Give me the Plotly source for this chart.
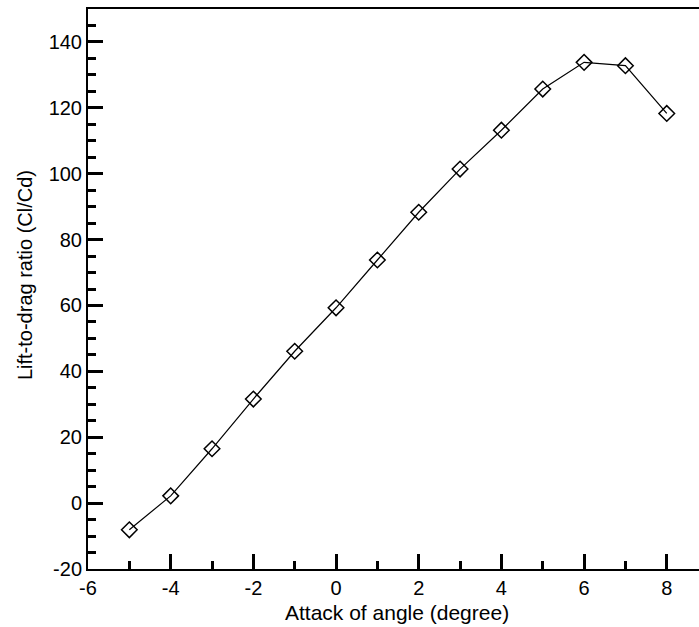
import plotly.graph_objects as go

# Angle of attack (degrees) and the corresponding lift-to-drag ratio
angle_of_attack = [-5, -4, -3, -2, -1, 0, 1, 2, 3, 4, 5, 6, 7, 8]
lift_to_drag = [-8.1, 2.2, 16.5, 31.6, 46.1, 59.3, 73.8, 88.3, 101.4,
                113.2, 125.7, 133.8, 132.8, 118.3]

x_ticks = [-6, -4, -2, 0, 2, 4, 6, 8]
y_ticks = [-20, 0, 20, 40, 60, 80, 100, 120, 140]
x_minor = [-5, -3, -1, 1, 3, 5, 7]
y_minor = [v for v in range(-15, 150, 5) if v % 20 != 0]

FONT = "Liberation Sans, Arial, sans-serif"
INK = "rgb(0,0,0)"

fig = go.Figure(
    go.Scatter(
        x=angle_of_attack,
        y=lift_to_drag,
        mode="lines+markers",
        line=dict(color=INK, width=1.2),
        marker=dict(symbol="diamond-open", size=12,
                    color=INK, line=dict(color=INK, width=1.5)),
        showlegend=False,
    )
)

fig.update_layout(
    width=699,
    height=627,
    margin=dict(l=88, r=0, t=9, b=58),
    paper_bgcolor="white",
    plot_bgcolor="white",
    font=dict(family=FONT, size=20, color=INK),
)

axis_style = dict(
    ticks="inside",
    ticklen=15,
    tickwidth=2.5,
    tickcolor=INK,
    showline=True,
    linewidth=2,
    linecolor=INK,
    showgrid=False,
    zeroline=False,
    tickfont=dict(size=20),
)

fig.update_xaxes(
    range=[-6, 8.78],
    tickvals=x_ticks,
    ticktext=[str(v) for v in x_ticks],
    minor=dict(tickvals=x_minor, ticks="inside", ticklen=8, tickwidth=2.5,
               tickcolor=INK, showgrid=False),
    mirror=True,
    **axis_style,
)

fig.update_yaxes(
    range=[-20, 150],
    tickvals=y_ticks,
    ticktext=[str(v) for v in y_ticks],
    minor=dict(tickvals=y_minor, ticks="inside", ticklen=8, tickwidth=2.5,
               tickcolor=INK, showgrid=False),
    **axis_style,
)

# Axis titles placed in paper coordinates
fig.add_annotation(text="Attack of angle (degree)", xref="paper", yref="paper",
                   x=0.506, y=-0.077, xanchor="center", yanchor="middle",
                   showarrow=False, font=dict(size=21))
fig.add_annotation(text="Lift-to-drag ratio (Cl/Cd)", xref="paper", yref="paper",
                   x=-0.103, y=0.525, xanchor="center", yanchor="middle",
                   textangle=-90, showarrow=False, font=dict(size=20))

fig.write_html("out.html")
